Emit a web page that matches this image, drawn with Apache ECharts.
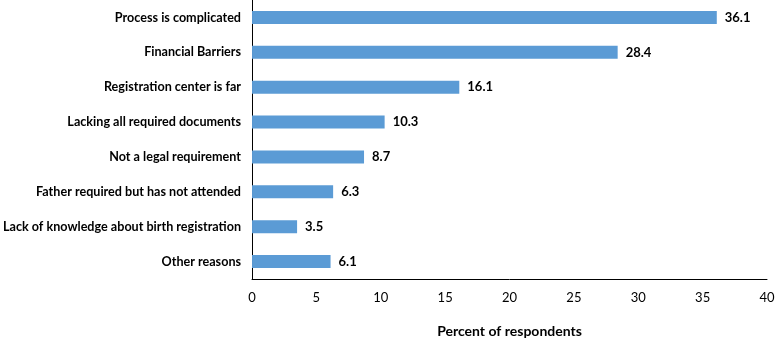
<!DOCTYPE html>
<html>
<head>
<meta charset="utf-8">
<script src="https://cdn.jsdelivr.net/npm/echarts@6/dist/echarts.min.js"></script>
<style>
  html, body { margin: 0; padding: 0; background: #fff; }
  #chart { width: 778px; height: 343px; }
</style>
</head>
<body>
<div id="chart"></div>
<script>
const reasons = [
  'Process is complicated',
  'Financial Barriers',
  'Registration center is far',
  'Lacking all required documents',
  'Not a legal requirement',
  'Father required but has not attended',
  'Lack of knowledge about birth registration',
  'Other reasons'
];
const percents = [36.1, 28.4, 16.1, 10.3, 8.7, 6.3, 3.5, 6.1];
const xTicks = [0, 5, 10, 15, 20, 25, 30, 35, 40];

const font = 'Lato, "Open Sans", sans-serif';
const chart = echarts.init(document.getElementById('chart'));

chart.setOption({
  animation: false,
  grid: {left: 251, right: 11, top: 0, bottom: 59},
  xAxis: {
    type: 'value',
    min: xTicks[0],
    max: xTicks[xTicks.length - 1],
    interval: 5,
    name: 'Percent of respondents',
    nameLocation: 'middle',
    nameGap: 45,
    nameTextStyle: {fontFamily: font, fontWeight: 'bold', fontSize: 14, color: '#000'},
    axisLine: {show: true, lineStyle: {color: '#000', width: 1}},
    axisTick: {show: false},
    splitLine: {show: false},
    axisLabel: {fontFamily: font, fontSize: 13, color: '#000', margin: 12}
  },
  yAxis: {
    type: 'category',
    inverse: true,
    data: reasons,
    axisLine: {show: true, lineStyle: {color: '#000', width: 1}},
    axisTick: {show: false},
    axisLabel: {fontFamily: font, fontWeight: 'bold', fontSize: 12.6, color: '#000', margin: 11}
  },
  series: [{
    type: 'bar',
    data: percents,
    barWidth: 13,
    itemStyle: {color: '#5B9BD5'},
    label: {
      show: true,
      position: 'right',
      distance: 8,
      fontFamily: font,
      fontWeight: 'bold',
      fontSize: 13,
      color: '#000'
    }
  }]
});
</script>
</body>
</html>
